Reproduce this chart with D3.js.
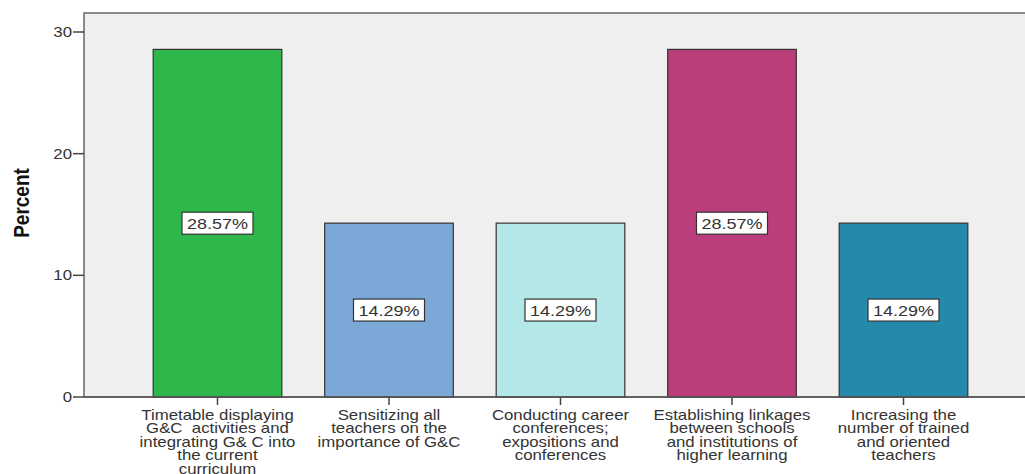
<!DOCTYPE html>
<html>
<head>
<meta charset="utf-8">
<script src="https://cdn.jsdelivr.net/npm/d3@7"></script>
<style>
  body { margin: 0; background: #fff; }
  text { font-family: "Liberation Sans", Arial, sans-serif; fill: #333; }
</style>
</head>
<body>
<div id="chart"></div>
<script>
// data
let categories = ['c1', 'c2', 'c3', 'c4', 'c5'];
let labelLines = [
  ['Timetable displaying', 'G&C  activities and', 'integrating G& C into', 'the current', 'curriculum'],
  ['Sensitizing all', 'teachers on the', 'importance of G&C'],
  ['Conducting career', 'conferences;', 'expositions and', 'conferences'],
  ['Establishing linkages', 'between schools', 'and institutions of', 'higher learning'],
  ['Increasing the', 'number of trained', 'and oriented', 'teachers']
];
let percents = [28.57, 14.29, 14.29, 28.57, 14.29];
let barColors = ['#2eb84b', '#7ba8d6', '#b4e7e8', '#bb3e7b', '#2489ab'];
let yTicks = [0, 10, 20, 30];

let width = 1025, height = 474;
let sx = 1.2; // the picture is stretched sideways
let plot = {left: 84, top: 13, bottom: 397};

let svg = d3.select('#chart')
  .append('svg')
  .attr('width', width)
  .attr('height', height);

let yScale = d3.scaleLinear()
  .domain([0, 30])
  .range([plot.bottom, plot.bottom - 365]);

let xScale = d3.scaleBand()
  .domain(categories)
  .range([131.75, 989.25])
  .paddingInner(0.25)
  .paddingOuter(0.125);

// plot background + frame
svg.append('rect')
  .attr('x', plot.left)
  .attr('y', plot.top)
  .attr('width', width + 10 - plot.left)
  .attr('height', plot.bottom - plot.top)
  .attr('fill', '#efefef')
  .attr('stroke', '#666')
  .attr('stroke-width', 1.5);

// y axis ticks
let yg = svg.append('g');
yg.selectAll('line')
  .data(yTicks)
  .enter().append('line')
  .attr('x1', 73).attr('x2', plot.left)
  .attr('y1', d => yScale(d)).attr('y2', d => yScale(d))
  .attr('stroke', '#444').attr('stroke-width', 1.5);
yg.selectAll('text')
  .data(yTicks)
  .enter().append('text')
  .attr('transform', d => `translate(72,${yScale(d) + 5}) scale(${sx},1)`)
  .attr('text-anchor', 'end')
  .attr('font-size', 14)
  .text(d => d);

// y axis title
svg.append('text')
  .attr('transform', `translate(29,203) scale(${sx},1) rotate(-90)`)
  .attr('text-anchor', 'middle')
  .attr('font-size', 19)
  .attr('font-weight', 'bold')
  .style('fill', '#111')
  .text('Percent');

// bars
let g = svg.selectAll('.bar')
  .data(categories)
  .enter().append('g')
  .attr('class', 'bar');

g.append('rect')
  .attr('x', d => xScale(d))
  .attr('y', (d, i) => yScale(percents[i]))
  .attr('width', xScale.bandwidth())
  .attr('height', (d, i) => plot.bottom - yScale(percents[i]))
  .attr('fill', (d, i) => barColors[i])
  .attr('stroke', '#333')
  .attr('stroke-width', 1.2);

// value boxes
g.append('rect')
  .attr('x', d => xScale(d) + xScale.bandwidth() / 2 - 35.5)
  .attr('y', (d, i) => yScale(percents[i] / 2) - 11)
  .attr('width', 71)
  .attr('height', 22)
  .attr('fill', '#fff')
  .attr('stroke', '#333')
  .attr('stroke-width', 1.2);

g.append('text')
  .attr('transform', (d, i) => `translate(${xScale(d) + xScale.bandwidth() / 2},${yScale(percents[i] / 2) + 5.5}) scale(${sx},1)`)
  .attr('text-anchor', 'middle')
  .attr('font-size', 15)
  .text((d, i) => percents[i].toFixed(2) + '%');

// redraw bottom axis line over bar borders
svg.append('line')
  .attr('x1', plot.left).attr('x2', width)
  .attr('y1', plot.bottom).attr('y2', plot.bottom)
  .attr('stroke', '#555').attr('stroke-width', 1.5);

// x ticks + category labels
g.append('line')
  .attr('x1', d => xScale(d) + xScale.bandwidth() / 2)
  .attr('x2', d => xScale(d) + xScale.bandwidth() / 2)
  .attr('y1', plot.bottom).attr('y2', plot.bottom + 8)
  .attr('stroke', '#444').attr('stroke-width', 1.5);

g.each(function(d, i) {
  let cx = xScale(d) + xScale.bandwidth() / 2;
  d3.select(this).selectAll('.xl')
    .data(labelLines[i])
    .enter().append('text')
    .attr('class', 'xl')
    .attr('transform', (t, j) => `translate(${cx},${419.5 + j * 13.5}) scale(${sx},1)`)
    .attr('text-anchor', 'middle')
    .attr('font-size', 14)
    .style('white-space', 'pre')
    .text(t => t);
});
</script>
</body>
</html>
